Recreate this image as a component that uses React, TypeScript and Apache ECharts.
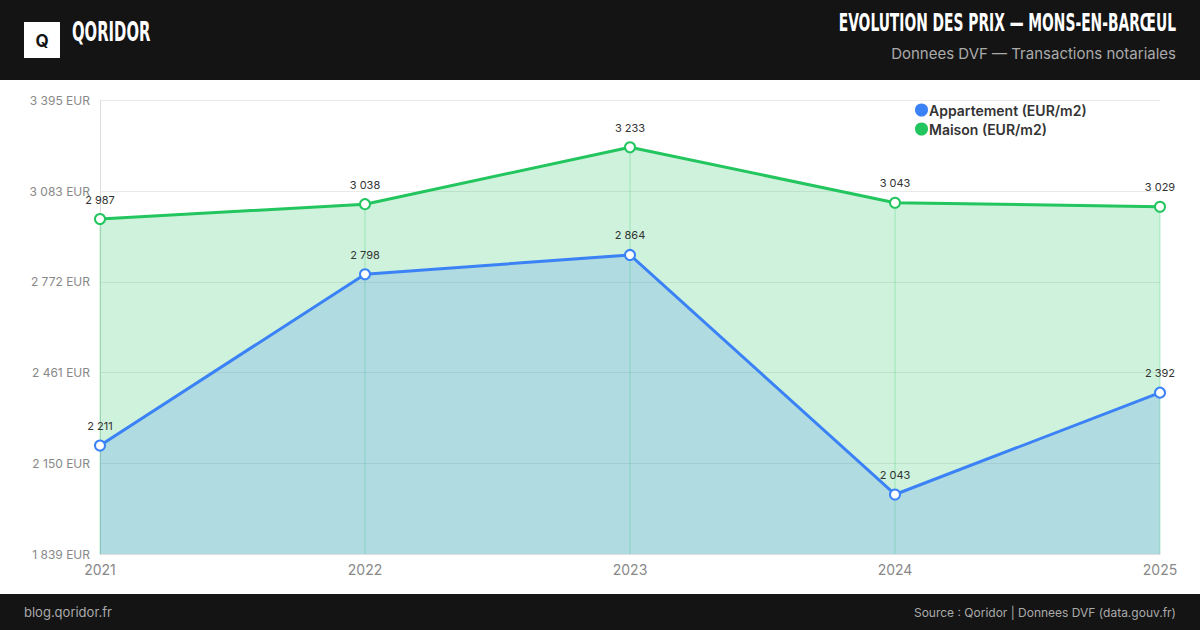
import React, { useEffect, useRef } from "react";
import * as echarts from "echarts";

const years = ["2021", "2022", "2023", "2024", "2025"];
const appartement = [2211, 2798, 2864, 2043, 2392];
const maison = [2987, 3038, 3233, 3043, 3029];
const yTicks = [1839, 2150, 2461, 2772, 3083, 3395];

const BLUE = "#3b82f6";
const GREEN = "#22c55e";
const BODY = "Inter, 'Noto Sans', sans-serif";
const COND = "'Liberation Sans Narrow', 'DejaVu Sans Condensed', 'Roboto', sans-serif";

const fmt = (v: number) => {
  const s = String(Math.floor(v));
  return s.replace(/\B(?=(\d{3})+(?!\d))/g, " ");
};

export default function App() {
  const ref = useRef<HTMLDivElement>(null);
  useEffect(() => {
    document.body.style.margin = "0";
    const chart = echarts.init(ref.current!, null, { renderer: "svg" });
    chart.setOption({
      animation: false,
      backgroundColor: "#ffffff",
      textStyle: { fontFamily: BODY },
      graphic: [
        { type: "rect", left: 0, top: 0, shape: { width: 1200, height: 80 }, style: { fill: "#141414" }, z: 0 },
        { type: "rect", left: 0, top: 594, shape: { width: 1200, height: 36 }, style: { fill: "#141414" }, z: 0 },
        { type: "rect", left: 24, top: 22, shape: { width: 36, height: 36 }, style: { fill: "#ffffff" }, z: 1 },
        {
          type: "text", x: 42, y: 41, z: 2,
          style: { text: "Q", fill: "#141414", font: `bold 17px ${BODY}`, textAlign: "center", textVerticalAlign: "middle" },
        },
        {
          type: "text", x: 72, y: 31, z: 2, scaleX: 0.61,
          style: { text: "QORIDOR", fill: "#ffffff", font: `bold 27px ${COND}`, textAlign: "left", textVerticalAlign: "middle" },
        },
        {
          type: "text", x: 1176, y: 23, z: 2, scaleX: 0.615,
          style: { text: "EVOLUTION DES PRIX — MONS-EN-BARŒUL", fill: "#ffffff", font: `bold 25px ${COND}`, textAlign: "right", textVerticalAlign: "middle" },
        },
        {
          type: "text", x: 1176, y: 53, z: 2,
          style: { text: "Donnees DVF — Transactions notariales", fill: "#aaaaaa", font: `15px ${BODY}`, textAlign: "right", textVerticalAlign: "middle" },
        },
        {
          type: "text", x: 24, y: 612, z: 2,
          style: { text: "blog.qoridor.fr", fill: "#aaaaaa", font: `13px ${BODY}`, textAlign: "left", textVerticalAlign: "middle" },
        },
        {
          type: "text", x: 1176, y: 612, z: 2,
          style: { text: "Source : Qoridor | Donnees DVF (data.gouv.fr)", fill: "#aaaaaa", font: `12px ${BODY}`, textAlign: "right", textVerticalAlign: "middle" },
        },
      ],
      legend: {
        data: ["Appartement (EUR/m2)", "Maison (EUR/m2)"],
        orient: "vertical",
        left: 910,
        top: 98,
        icon: "circle",
        itemWidth: 11,
        itemHeight: 11,
        itemGap: 5,
        textStyle: { fontFamily: BODY, fontSize: 14, fontWeight: 600, color: "#333333", padding: [0, 0, 0, -3] },
      },
      grid: { left: 100, right: 40, top: 100, bottom: 76, containLabel: false },
      xAxis: {
        type: "category",
        data: years,
        boundaryGap: false,
        axisLine: { show: true, lineStyle: { color: "#dddddd" } },
        axisTick: { show: false },
        axisLabel: { color: "#888888", fontSize: 14, margin: 8, fontFamily: BODY },
        splitLine: { show: false },
      },
      yAxis: {
        type: "value",
        min: 1839,
        max: 3395,
        axisLine: { show: true, lineStyle: { color: "#dddddd" } },
        axisTick: { show: false, customValues: yTicks },
        axisLabel: {
          customValues: yTicks,
          color: "#888888",
          fontSize: 12,
          margin: 10,
          fontFamily: BODY,
          formatter: (v: number) => fmt(v) + " EUR",
        },
        splitLine: { show: true, lineStyle: { color: "#eaeaea", width: 1 } },
      },
      series: [
        {
          name: "guides",
          type: "bar",
          data: maison,
          barWidth: 1,
          itemStyle: { color: "rgba(34,197,94,0.3)" },
          silent: true,
          z: 1,
          tooltip: { show: false },
        },
        {
          name: "Maison (EUR/m2)",
          type: "line",
          data: maison,
          color: GREEN,
          symbol: "emptyCircle",
          symbolSize: 10,
          lineStyle: { width: 3, color: GREEN },
          itemStyle: { color: GREEN, borderWidth: 3.5, borderColor: GREEN },
          areaStyle: { color: "rgba(34,197,94,0.22)", opacity: 1 },
          label: { show: true, position: "top", distance: 8, color: "#333333", fontSize: 11, fontFamily: BODY, formatter: (p: any) => fmt(p.value) },
          z: 3,
        },
        {
          name: "Appartement (EUR/m2)",
          type: "line",
          data: appartement,
          color: BLUE,
          symbol: "emptyCircle",
          symbolSize: 10,
          lineStyle: { width: 3, color: BLUE },
          itemStyle: { color: BLUE, borderWidth: 3.5, borderColor: BLUE },
          areaStyle: { color: "rgba(59,130,246,0.2)", opacity: 1 },
          label: { show: true, position: "top", distance: 8, color: "#333333", fontSize: 11, fontFamily: BODY, formatter: (p: any) => fmt(p.value) },
          z: 4,
        },
      ],
    });
    return () => chart.dispose();
  }, []);
  return <div ref={ref} style={{ position: "fixed", left: 0, top: 0, width: 1200, height: 630 }} />;
}
